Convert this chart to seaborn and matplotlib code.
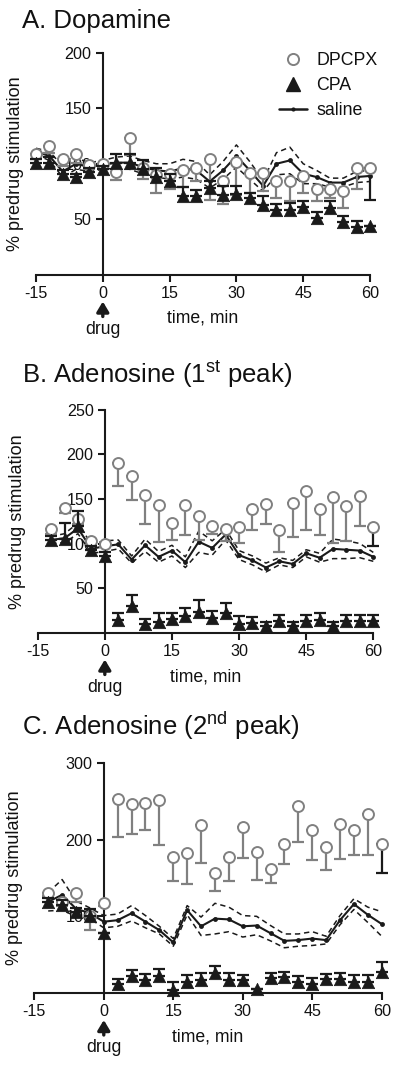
import numpy as np
import matplotlib
matplotlib.use("Agg")
import matplotlib.pyplot as plt
import matplotlib.transforms as mtransforms
from matplotlib.lines import Line2D
import seaborn as sns

# ---- data ----
t_A = [-15, -12, -9, -6, -3, 0, 3, 6, 9, 12, 15, 18, 21, 24, 27, 30, 33, 36, 39, 42, 45, 48, 51, 54, 57, 60]
dpcpx_A = [109, 116, 104, 109, 99, 100, 93, 123, 96, 90, 91, 94, 96, 104, 84, 102, 92, 92, 84, 84, 89, 77, 77, 75, 96, 96]
dpcpx_A_err = [5, 6, 6, 8, 4, 4, 8, 15, 10, 16, 14, 15, 12, 37, 20, 30, 18, 17, 15, 18, 15, 11, 8, 15, 19, 29]
cpa_A = [101, 101, 91, 88, 93, 95, 101, 101, 95, 88, 84, 71, 71, 78, 72, 73, 69, 63, 58, 58, 61, 51, 60, 47, 43, 44]
cpa_A_err = [3, 5, 3, 3, 3, 3, 8, 8, 8, 8, 7, 8, 5, 6, 8, 7, 5, 8, 6, 7, 5, 5, 6, 6, 5, 0]
saline_A = [111, 107, 93, 100, 97, 99, 101, 101, 97, 94, 93, 96, 94, 84, 94, 107, 94, 80, 100, 103, 91, 88, 83, 83, 88, 89]
saline_A_sem = [3, 4, 5, 5, 4, 4, 5, 6, 6, 6, 7, 8, 8, 6, 8, 10, 8, 5, 10, 12, 9, 6, 4, 4, 5, 5]

t_B = [-12, -9, -6, -3, 0, 3, 6, 9, 12, 15, 18, 21, 24, 27, 30, 33, 36, 39, 42, 45, 48, 51, 54, 57, 60]
dpcpx_B = [116, 140, 127, 103, 100, 191, 176, 155, 143, 123, 143, 131, 120, 116, 118, 139, 144, 115, 146, 159, 139, 152, 142, 153, 118]
dpcpx_B_err = [5, 6, 5, 5, 4, 26, 27, 33, 41, 19, 33, 27, 9, 13, 17, 24, 22, 24, 39, 44, 29, 51, 39, 33, 21]
cpa_B = [104, 105, 120, 93, 86, 14, 30, 9, 12, 15, 18, 23, 16, 22, 10, 11, 7, 13, 7, 13, 14, 7, 13, 13, 13]
cpa_B_err = [4, 18, 17, 4, 4, 8, 12, 6, 10, 7, 10, 14, 8, 11, 8, 6, 5, 7, 5, 7, 8, 5, 7, 7, 7]
saline_B = [104, 106, 117, 94, 97, 99, 82, 98, 85, 92, 79, 102, 95, 110, 87, 81, 73, 80, 77, 89, 84, 94, 93, 92, 85]
saline_B_sem = [4, 5, 6, 5, 6, 5, 4, 7, 6, 6, 6, 12, 8, 6, 5, 5, 5, 4, 4, 4, 5, 11, 10, 8, 5]

t_C = [-12, -9, -6, -3, 0, 3, 6, 9, 12, 15, 18, 21, 24, 27, 30, 33, 36, 39, 42, 45, 48, 51, 54, 57, 60]
dpcpx_C = [130, 119, 131, 100, 118, 253, 246, 248, 252, 178, 182, 219, 157, 178, 216, 184, 162, 195, 244, 212, 191, 220, 212, 233, 195]
dpcpx_C_err = [4, 5, 12, 18, 4, 50, 39, 36, 59, 32, 40, 49, 24, 32, 40, 36, 19, 27, 47, 39, 30, 45, 32, 53, 38]
cpa_C = [119, 115, 106, 100, 78, 12, 22, 17, 22, 4, 15, 17, 26, 17, 17, 5, 20, 21, 14, 12, 18, 18, 15, 15, 28]
cpa_C_err = [5, 6, 5, 10, 0, 6, 8, 8, 9, 10, 9, 9, 9, 9, 7, 0, 6, 6, 8, 8, 7, 8, 8, 8, 12]
saline_C = [119, 128, 110, 104, 93, 95, 104, 93, 82, 66, 108, 87, 97, 96, 87, 88, 78, 68, 69, 71, 69, 95, 116, 102, 90]
saline_C_sem = [12, 20, 10, 7, 8, 8, 10, 8, 5, 5, 6, 12, 20, 16, 14, 12, 10, 9, 8, 9, 5, 6, 7, 10, 16]

x_ticks = [-15, 0, 15, 30, 45, 60]
titles = ["A. Dopamine", r"B. Adenosine (1$^{\mathrm{st}}$ peak)", r"C. Adenosine (2$^{\mathrm{nd}}$ peak)"]

sns.set_theme(style="ticks")
plt.rcParams['font.family'] = ['Liberation Sans', 'DejaVu Sans']
plt.rcParams['mathtext.fontset'] = 'custom'
plt.rcParams['mathtext.rm'] = 'Liberation Sans'
plt.rcParams['mathtext.it'] = 'Liberation Sans:italic'

W, H = 400, 1068
GREY = '#808080'
fig = plt.figure(figsize=(4, 10.68), dpi=100)


def fx(px):
    return px / W


def fy(px):
    return 1 - px / H


def panel(left, right, y0, ytop, ymax, yticks, t, dp, dp_err, cpa, cpa_err, sal, sem, title, title_y):
    ax = fig.add_axes([fx(left), fy(y0), (right - left) / W, (y0 - ytop) / H])
    t = np.array(t)
    sal = np.array(sal)
    sem = np.array(sem)
    # saline +/- sem as dashed lines, mean as solid with small dots
    for band in (sal + sem, sal - sem):
        sns.lineplot(x=t, y=band, ax=ax, color='k', lw=1.1, linestyle=(0, (3.5, 2.5)),
                     clip_on=False, zorder=3)
    sns.lineplot(x=t, y=sal, ax=ax, color='k', lw=1.5, marker='o', markersize=3.5,
                 markeredgewidth=0, clip_on=False, zorder=4)
    z = np.zeros(len(t))
    dp_err = np.array(dp_err)
    ax.errorbar(t[:-1], dp[:-1], yerr=[dp_err[:-1], z[:-1]], fmt='none', ecolor=GREY,
                elinewidth=1.6, capsize=4, capthick=1.6, zorder=5, clip_on=False)
    ax.errorbar(t[-1:], dp[-1:], yerr=[dp_err[-1:], z[-1:]], fmt='none', ecolor='k',
                elinewidth=1.6, capsize=4, capthick=1.6, zorder=5, clip_on=False)
    sns.scatterplot(x=t, y=dp, ax=ax, marker='o', s=62, facecolor='white',
                    edgecolor=GREY, linewidth=1.4, zorder=6, clip_on=False)
    ax.errorbar(t, cpa, yerr=[z, cpa_err], fmt='none', ecolor='k',
                elinewidth=1.6, capsize=4, capthick=1.6, zorder=7, clip_on=False)
    sns.scatterplot(x=t, y=cpa, ax=ax, marker='^', s=80, color='k',
                    edgecolor='k', linewidth=0.5, zorder=8, clip_on=False)

    ax.set_xlim(-15, 60)
    ax.set_ylim(0, ymax)
    ax.set_xticks(x_ticks)
    ax.set_xticklabels([str(v) for v in x_ticks])
    ax.set_yticks(yticks)
    ax.set_yticklabels([str(v) for v in yticks])
    ax.spines['left'].set_position(('data', 0))
    ax.spines['top'].set_visible(False)
    ax.spines['right'].set_visible(False)
    for s in ('left', 'bottom'):
        ax.spines[s].set_linewidth(1.5)
        ax.spines[s].set_color('k')
    ax.tick_params(axis='both', direction='out', length=5, width=1.5, color='k',
                   labelsize=11.6, pad=3, labelcolor='#111111')
    ax.set_xlabel('')
    ax.set_ylabel('')
    ax.patch.set_alpha(0)

    # labels
    fig.text(fx(22), fy(title_y), title, fontsize=18.5, va='baseline', ha='left', color='#111111')
    fig.text(fx(left - 20), fy((y0 + ytop) / 2), '% predrug stimulation', rotation=90,
             fontsize=13, va='center', ha='center', color='#111111')
    tr = mtransforms.blended_transform_factory(ax.transData, fig.transFigure)
    fig.text(22.5, fy(y0 + 44), 'time, min', transform=tr, fontsize=12.7,
             ha='center', va='center', color='#111111')
    fig.text(0, fy(y0 + 55), 'drug', transform=tr, fontsize=12.7,
             ha='center', va='center', color='#111111')
    ax.annotate('', xy=(0, fy(y0 + 27)), xytext=(0, fy(y0 + 42)),
                xycoords=('data', 'figure fraction'), textcoords=('data', 'figure fraction'),
                arrowprops=dict(arrowstyle='-|>,head_width=0.3,head_length=0.5',
                                lw=2.4, color='k', shrinkA=0, shrinkB=0))
    return ax


axA = panel(36, 370, 274.5, 53, 200, [50, 100, 150, 200], t_A, dpcpx_A, dpcpx_A_err,
            cpa_A, cpa_A_err, saline_A, saline_A_sem, titles[0], 28)
axB = panel(37.7, 373.3, 632.5, 410, 250, [50, 100, 150, 200, 250], t_B, dpcpx_B, dpcpx_B_err,
            cpa_B, cpa_B_err, saline_B, saline_B_sem, titles[1], 383)
axC = panel(34.3, 381.7, 993, 763, 300, [100, 200, 300], t_C, dpcpx_C, dpcpx_C_err,
            cpa_C, cpa_C_err, saline_C, saline_C_sem, titles[2], 735)

# legend in panel A
handles = [
    Line2D([], [], linestyle='none', marker='o', markersize=8, markerfacecolor='white',
           markeredgecolor=GREY, markeredgewidth=1.4),
    Line2D([], [], linestyle='none', marker='^', markersize=9.5, color='k'),
    Line2D([], [], color='k', lw=1.8, marker='o', markersize=2),
]
fig.legend(handles, ['DPCPX', 'CPA', 'saline'], loc='upper left',
           bbox_to_anchor=(fx(270), fy(43)), frameon=False, fontsize=12.8,
           handlelength=1.6, handletextpad=0.5, labelspacing=0.45, borderpad=0,
           labelcolor='#111111')

fig.savefig('out.png', dpi=100)
